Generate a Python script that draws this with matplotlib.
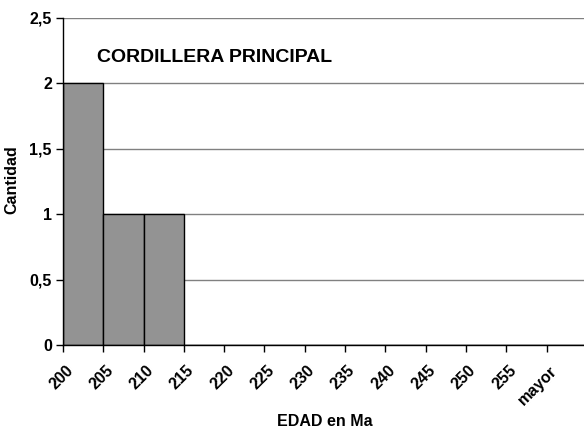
import matplotlib
matplotlib.use("Agg")
import matplotlib.pyplot as plt
import matplotlib.transforms as mtransforms
import numpy as np

plt.rcParams["font.family"] = ["Liberation Sans", "DejaVu Sans"]
plt.rcParams["font.weight"] = "bold"

categories = ["200", "205", "210", "215", "220", "225", "230", "235",
              "240", "245", "250", "255", "mayor"]
counts = [2, 1, 1, 0, 0, 0, 0, 0, 0, 0, 0, 0, 0]
yticks = [0, 0.5, 1, 1.5, 2, 2.5]
ylabels = ["0", "0,5", "1", "1,5", "2", "2,5"]

FS = 11.5

fig = plt.figure(figsize=(5.84, 4.32), dpi=100)
ax = fig.add_axes([63 / 584, 1 - 345 / 432, 521 / 584, 327 / 432])

x = np.arange(len(categories))
ax.bar(x, counts, width=1.0, align="edge", color="#939393",
       edgecolor="black", linewidth=1.0, zorder=3)

ax.set_xlim(0, 12.93)
ax.set_ylim(0, 2.5)
ax.set_yticks(yticks)
ax.set_yticklabels(ylabels, fontsize=FS, fontweight="bold")
ax.yaxis.grid(True, color="#808080", linewidth=1.0, zorder=0)
ax.set_xticks(x)
ax.set_xticklabels([])

# rotated category labels, top-right corner just right of each tick
shift = mtransforms.ScaledTranslation(13 / 100, -18 / 100, fig.dpi_scale_trans)
for xi, lab in zip(x, categories):
    ax.text(xi, 0, lab, transform=ax.get_xaxis_transform() + shift,
            rotation=45, ha="right", va="top", fontsize=FS, fontweight="bold")

ax.tick_params(axis="both", direction="out", length=5, width=1, color="black", pad=3)
for side in ["top", "right"]:
    ax.spines[side].set_visible(False)
for side in ["left", "bottom"]:
    ax.spines[side].set_color("black")
    ax.spines[side].set_linewidth(1.0)
    ax.spines[side].set_zorder(4)

fig.text(97 / 584, 1 - 57 / 432, "CORDILLERA PRINCIPAL",
         fontsize=14, fontweight="bold", va="center", ha="left")
fig.text(12 / 584, 1 - 180 / 432, "Cantidad", rotation=90, fontsize=FS,
         fontweight="bold", ha="center", va="center")
fig.text(325 / 584, 1 - 422 / 432, "EDAD en Ma", fontsize=FS,
         fontweight="bold", ha="center", va="center")

fig.savefig("out.png", dpi=100)
